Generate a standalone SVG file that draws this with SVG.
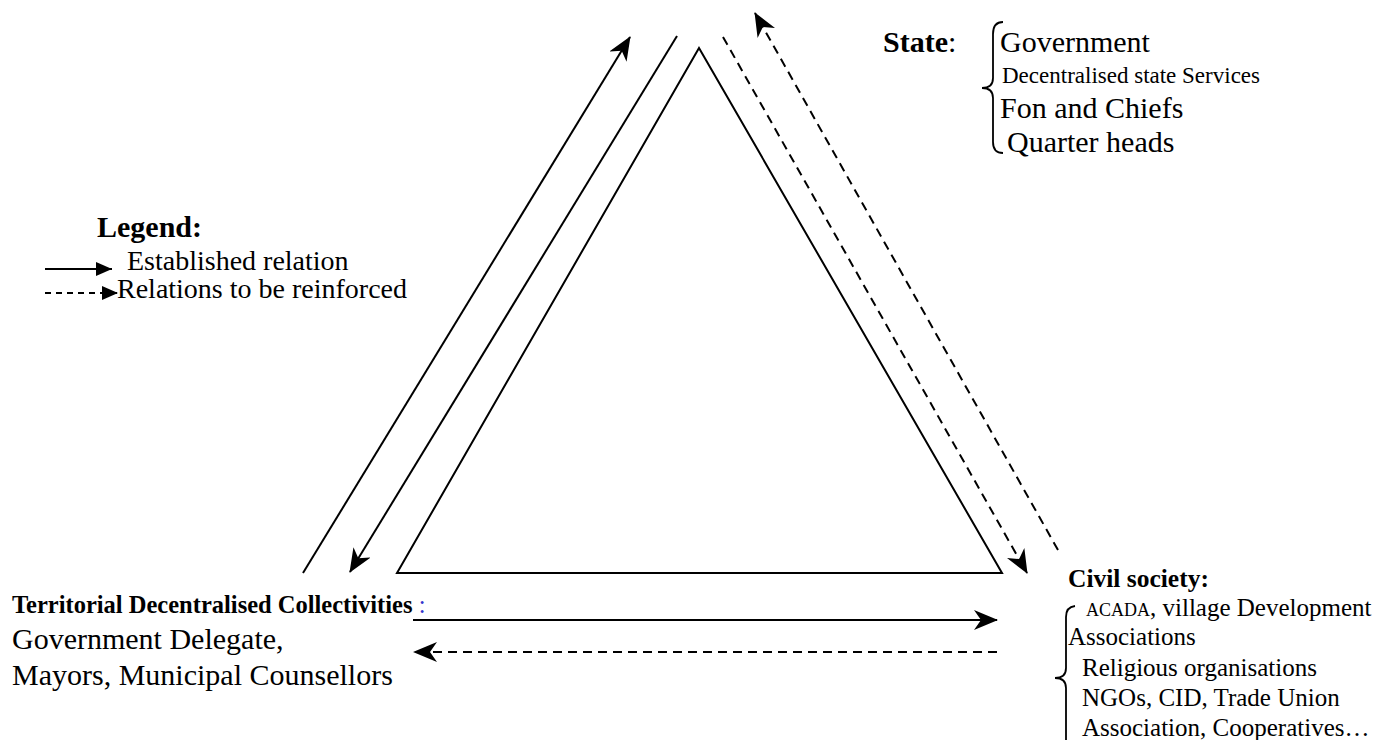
<svg xmlns="http://www.w3.org/2000/svg" width="1392" height="740" viewBox="0 0 1392 740">
<defs>
<marker id="ah" markerUnits="userSpaceOnUse" markerWidth="24" markerHeight="20" viewBox="0 0 24 20" refX="23" refY="10" orient="auto">
<path d="M0,0 L24,10 L0,20 L7,10 z" fill="#000"/>
</marker>
<marker id="ahs" markerUnits="userSpaceOnUse" markerWidth="16" markerHeight="14" viewBox="0 0 16 14" refX="16" refY="7" orient="auto">
<path d="M0,0 L16,7 L0,14 z" fill="#000"/>
</marker>
<style>
.t{font-family:"Liberation Serif","Times New Roman",serif;fill:#000}
.b{font-weight:bold}
.ln{stroke:#000;stroke-width:2;fill:none}
.da{stroke-dasharray:9,6}
.br{stroke:#000;stroke-width:1.8;fill:none}
</style>
</defs>
<rect width="1392" height="740" fill="#fff"/>

<g id="triangle">
<path class="ln" d="M699,48 L397,573 L1002,573 Z" stroke-linejoin="miter"/>
</g>

<g id="connectors">
<line class="ln" x1="303" y1="573" x2="630" y2="37" marker-end="url(#ah)"/>
<line class="ln" x1="677" y1="36" x2="350" y2="572" marker-end="url(#ah)"/>
<line class="ln da" x1="723" y1="37" x2="1027" y2="573" marker-end="url(#ah)"/>
<line class="ln da" x1="1058" y1="550" x2="755" y2="13" marker-end="url(#ah)"/>
<line class="ln" x1="413" y1="620" x2="997" y2="620" marker-end="url(#ah)"/>
<line class="ln da" x1="997" y1="652" x2="414" y2="652" marker-end="url(#ah)"/>
</g>

<g id="legend">
<text class="t b" x="97" y="237" font-size="30">Legend:</text>
<line class="ln" x1="45" y1="269" x2="112" y2="269" marker-end="url(#ahs)"/>
<text class="t" x="127" y="270" font-size="28">Established relation</text>
<line class="ln" x1="45" y1="293" x2="118" y2="293" stroke-dasharray="6,5" marker-end="url(#ahs)"/>
<text class="t" x="117" y="298" font-size="28">Relations to be reinforced</text>
</g>

<g id="state">
<text class="t" x="883" y="52" font-size="30"><tspan class="b">State</tspan>:</text>
<path class="br" d="M1003,22 Q993,22 993,34 L993,78 Q993,88 982,88 Q993,88 993,98 L993,142 Q993,153 1003,153"/>
<text class="t" x="1000" y="52" font-size="30">Government</text>
<text class="t" x="1002" y="83" font-size="23">Decentralised state Services</text>
<text class="t" x="1000" y="118" font-size="30">Fon and Chiefs</text>
<text class="t" x="1007" y="152" font-size="30">Quarter heads</text>
</g>

<g id="tdc">
<text class="t" x="12" y="613" font-size="24.5"><tspan class="b">Territorial Decentralised Collectivities</tspan><tspan fill="#3333cc"> :</tspan></text>
<text class="t" x="12" y="649" font-size="30">Government Delegate,</text>
<text class="t" x="12" y="685" font-size="30">Mayors, Municipal Counsellors</text>
</g>

<g id="civil">
<text class="t b" x="1068" y="587" font-size="25.5">Civil society:</text>
<path class="br" d="M1075,606 Q1066,607 1066,617 L1066,668 Q1066,678 1055,678 Q1066,678 1066,688 L1066,740"/>
<text class="t" x="1086" y="616" font-size="25"><tspan font-size="18">ACADA</tspan>, village Development</text>
<text class="t" x="1068" y="645" font-size="25">Associations</text>
<text class="t" x="1082" y="676" font-size="25">Religious organisations</text>
<text class="t" x="1082" y="706" font-size="25">NGOs, CID, Trade Union</text>
<text class="t" x="1082" y="736" font-size="25">Association, Cooperatives…</text>
</g>
</svg>
